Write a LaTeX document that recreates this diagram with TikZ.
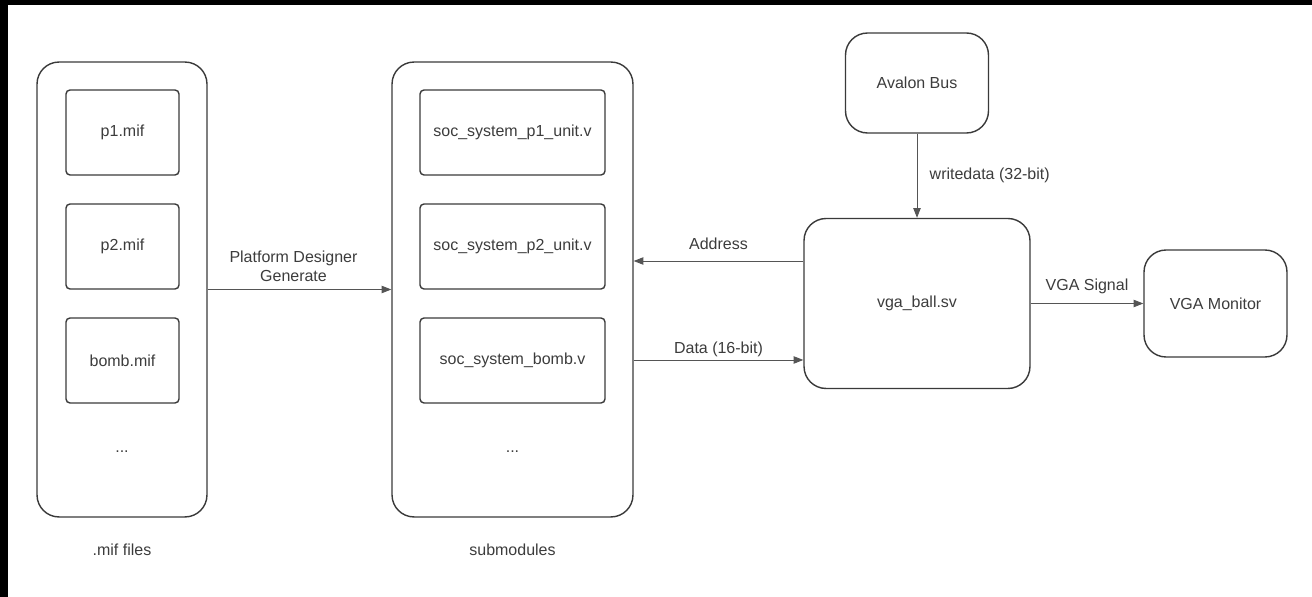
\documentclass[tikz,border=0pt]{standalone}
\usepackage{fontspec}
\setmainfont{Liberation Sans}
\usetikzlibrary{arrows.meta}

\definecolor{boxline}{HTML}{3A3A3A}
\definecolor{linkgray}{HTML}{555555}
\definecolor{labeltext}{HTML}{3C3C3C}

\begin{document}
\begin{tikzpicture}[x = 0.02cm, y = -0.02cm,
        font = \fontsize{9.1}{11}\selectfont, text = labeltext,
        outer/.style = {draw = boxline, line width = .8pt, rounded corners = .44cm, inner sep = 0pt},
        file/.style = {draw = boxline, line width = .8pt, rounded corners = .08cm, inner sep = 0pt, minimum height = 1.7cm},
        link/.style = {draw = linkgray, line width = .5pt, -{Triangle[length = 5.5pt, width = 4.2pt]}}]
    \useasboundingbox (0,0) rectangle (1312,597);

    % Draw the dark frame edges:
    \fill [black] (0,0) rectangle (1312,5);
    \fill [black] (0,0) rectangle (8,597);

    % Draw the .mif files column:
    \node [outer, minimum width = 3.4cm, minimum height = 9.1cm] (mif) at (122,289.5) {};
    \node [file, minimum width = 2.26cm] (p1mif) at (122.5,132.5) {p1.mif};
    \node [file, minimum width = 2.26cm] (p2mif) at (122.5,246.5) {p2.mif};
    \node [file, minimum width = 2.26cm] (bombmif) at (122.5,360.5) {bomb.mif};
    \node [] (mifdots) at (122,452) {...};
    \node [] (miflabel) at (122,550) {.mif files};

    % Draw the submodules column:
    \node [outer, minimum width = 4.82cm, minimum height = 9.1cm] (sub) at (512.5,289.5) {};
    \node [file, minimum width = 3.7cm] (p1unit) at (512.5,132.5) {soc\_system\_p1\_unit.v};
    \node [file, minimum width = 3.7cm] (p2unit) at (512.5,246.5) {soc\_system\_p2\_unit.v};
    \node [file, minimum width = 3.7cm] (bombunit) at (512.5,360.5) {soc\_system\_bomb.v};
    \node [] (subdots) at (512.5,452) {...};
    \node [] (sublabel) at (512.5,550) {submodules};

    % Draw the bus, the controller and the monitor:
    \node [outer, minimum width = 2.86cm, minimum height = 2cm] (bus) at (917,83) {Avalon Bus};
    \node [outer, minimum width = 4.52cm, minimum height = 3.4cm] (vga) at (917,303.5) {vga\_ball.sv};
    \node [outer, minimum width = 2.86cm, minimum height = 2.14cm] (mon) at (1215.5,303.5) {VGA Monitor};

    % Draw the links:
    \draw [link] (mif.east) -- (sub.west)
        node [midway, above, align = center, inner sep = 4pt, xshift = -.12cm] (gen) {Platform Designer\\Generate};
    \draw [link] ([yshift = .85cm]vga.west) -- ([yshift = .85cm]vga.west -| sub.east)
        node [midway, above, inner sep = 6pt] (addr) {Address};
    \draw [link] ([yshift = -1.13cm]vga.west -| sub.east) -- ([yshift = -1.13cm]vga.west)
        node [midway, above, inner sep = 1.5pt] (data) {Data (16-bit)};
    \draw [link] (bus.south) -- (vga.north)
        node [midway, right, inner sep = 7pt] (wdata) {writedata (32-bit)};
    \draw [link] (vga.east) -- (mon.west)
        node [midway, above, inner sep = 5pt] (sig) {VGA Signal};
\end{tikzpicture}
\end{document}
